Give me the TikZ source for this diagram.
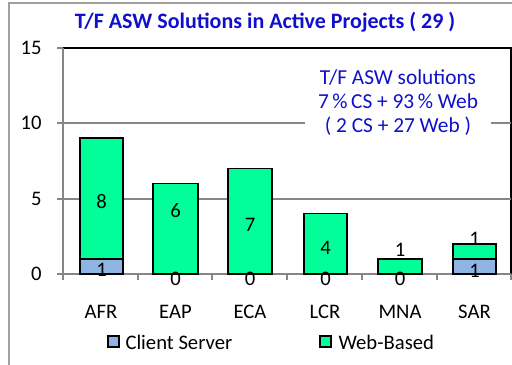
\documentclass[tikz,border=0pt]{standalone}
\usepackage{fontspec}
\setmainfont{Carlito}
\definecolor{webgreen}{RGB}{0,255,153}
\definecolor{csblue}{RGB}{142,180,227}
\definecolor{titleblue}{RGB}{16,16,204}
\definecolor{framegray}{RGB}{160,160,160}
\definecolor{gridgray}{RGB}{134,134,134}
\tikzset{every picture/.style={line width=0.75pt}}
\tikzset{
  bar/.style={draw=black,line width=1.1pt},
  grid line/.style={draw=gridgray,line width=1.1pt},
  lbl/.style={inner sep=0.75pt,font=\fontsize{15.5}{18}\selectfont},
  note/.style={inner sep=0.75pt,text=titleblue,font=\fontsize{16}{19}\selectfont}
}

\begin{document}
\begin{tikzpicture}[x=0.75pt,y=0.75pt,yscale=-1,xscale=1]
\useasboundingbox (0,0) rectangle (512,365);

%Shape: Frame
\draw [framegray,line width=1.5pt] (9,365) -- (9,3) -- (512,3) ;
%Shape: Plot area
\draw [black,line width=1.1pt] (63,48) -- (511,48) -- (511,274) ;
%Straight Lines: grid
\draw [grid line] (63,199) -- (511,199) ;
\draw [grid line] (63,123) -- (511,123) ;
%Straight Lines: axes and ticks
\draw [grid line] (63,48) -- (63,274) -- (511,274) ;
\draw [grid line] (57,48) -- (63,48) (57,123) -- (63,123) (57,199) -- (63,199) (57,274) -- (63,274) ;
\draw [grid line] (63,274) -- (63,280) (138,274) -- (138,280) (212,274) -- (212,280) (287,274) -- (287,280) (362,274) -- (362,280) (437,274) -- (437,280) (511,274) -- (511,280) ;

%Shape: Rectangle [AFR]
\draw [bar,fill=csblue] (80,274) rectangle (123,259) ;
\draw [bar,fill=webgreen] (80,259) rectangle (123,138) ;
%Shape: Rectangle [EAP]
\draw [bar,fill=webgreen] (153,274) rectangle (198,183.5) ;
%Shape: Rectangle [ECA]
\draw [bar,fill=webgreen] (228,274) rectangle (272,168.5) ;
%Shape: Rectangle [LCR]
\draw [bar,fill=webgreen] (304,274) rectangle (347,213.5) ;
%Shape: Rectangle [MNA]
\draw [bar,fill=webgreen] (378,274) rectangle (422,259) ;
%Shape: Rectangle [SAR]
\draw [bar,fill=csblue] (453,274) rectangle (496,259) ;
\draw [bar,fill=webgreen] (453,259) rectangle (496,244) ;

% Text Node: note box
\node [note,fill=white,inner xsep=10pt,inner ysep=2pt,align=center] (note) at (398,103) {T/F ASW solutions\\[-1pt]7\,\%\,CS + 93\,\% Web\\[-1pt]( 2 CS + 27 Web )};

% Text Node: title
\node [inner sep=0.75pt,text=titleblue,font=\fontsize{16.5}{19}\selectfont\bfseries] (title) at (265,22) {T/F ASW Solutions in Active Projects ( 29 )};

% Text Node: y labels
\node [lbl,anchor=east] (y15) at (43,48) {15};
\node [lbl,anchor=east] (y10) at (43,123) {10};
\node [lbl,anchor=east] (y5) at (43,199) {5};
\node [lbl,anchor=east] (y0) at (43,274) {0};

% Text Node: data labels
\node [lbl] (afrcs) at (101.5,270) {1};
\node [lbl] (afrweb) at (101.5,202) {8};
\node [lbl] (eapcs) at (175.5,278.5) {0};
\node [lbl] (eapweb) at (175.5,211) {6};
\node [lbl] (ecacs) at (250,278.5) {0};
\node [lbl] (ecaweb) at (250,225) {7};
\node [lbl] (lcrcs) at (325.5,278.5) {0};
\node [lbl] (lcrweb) at (325.5,248) {4};
\node [lbl] (mnacs) at (400,278.5) {0};
\node [lbl] (mnaweb) at (400,250) {1};
\node [lbl] (sarcs) at (474.5,271) {1};
\node [lbl] (sarweb) at (474.5,238.5) {1};

% Text Node: categories
\node [lbl] (afr) at (101,312) {AFR};
\node [lbl] (eap) at (175.5,312) {EAP};
\node [lbl] (eca) at (250,312) {ECA};
\node [lbl] (lcr) at (325,312) {LCR};
\node [lbl] (mna) at (400,312) {MNA};
\node [lbl] (sar) at (474.5,312) {SAR};

% Legend
\draw [black,line width=1.1pt,fill=csblue] (108,336) rectangle (119,347) ;
\node [lbl,anchor=west] (legcs) at (124,342) {Client Server};
\draw [black,line width=1.1pt,fill=webgreen] (320,336) rectangle (331,347) ;
\node [lbl,anchor=west] (legweb) at (337,342) {Web-Based};

\end{tikzpicture}
\end{document}
